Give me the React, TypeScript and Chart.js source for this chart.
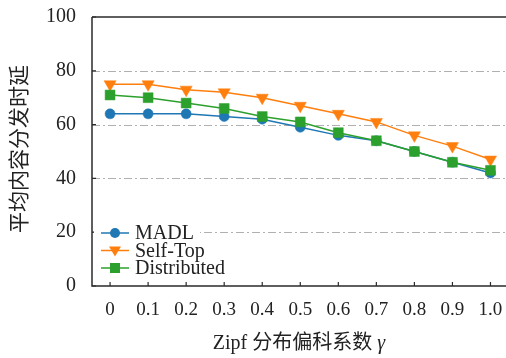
import React, { useEffect, useRef } from "react";
import { Chart, registerables } from "chart.js";

Chart.register(...registerables);

const xValues = [0, 0.1, 0.2, 0.3, 0.4, 0.5, 0.6, 0.7, 0.8, 0.9, 1.0];
const xTickLabels = ["0", "0.1", "0.2", "0.3", "0.4", "0.5", "0.6", "0.7", "0.8", "0.9", "1.0"];
const yTickValues = [0, 20, 40, 60, 80, 100];
const gridValues = [20, 40, 60, 80];

const madl = [64, 64, 64, 63, 62, 59, 56, 54, 50, 46, 42];
const selfTop = [75, 75, 73, 72, 70, 67, 64, 61, 56, 52, 47];
const distributed = [71, 70, 68, 66, 63, 61, 57, 54, 50, 46, 43];

const seriesNames = ["MADL", "Self-Top", "Distributed"];
const seriesColors = ["#1f77b4", "#ff7f0e", "#2ca02c"];

const yTitle = "平均内容分发时延";
const xTitleMain = "Zipf 分布偏科系数 ";
const xTitleSym = "γ";

const FONT = "'Liberation Serif', 'Times New Roman', 'Noto Sans CJK SC', serif";
const CJK_FONT = "'Liberation Serif', 'Noto Sans CJK SC', serif";

const toPoints = (arr: number[]) => arr.map((v, i) => ({ x: xValues[i], y: v }));

const decorPlugin = {
  id: "decor",
  beforeDatasetsDraw(chart: any) {
    const { ctx, chartArea } = chart;
    const y = chart.scales.y;
    const x = chart.scales.x;
    const right = 506;
    ctx.save();
    ctx.strokeStyle = "#b0b0b0";
    ctx.lineWidth = 1;
    ctx.setLineDash([8, 3, 2, 3]);
    gridValues.forEach((v) => {
      const py = Math.round(y.getPixelForValue(v)) + 0.5;
      ctx.beginPath();
      ctx.moveTo(chartArea.left, py);
      ctx.lineTo(right, py);
      ctx.stroke();
    });
    ctx.setLineDash([]);
    ctx.strokeStyle = "#2b2b2b";
    ctx.lineWidth = 1.5;
    const top = y.getPixelForValue(100);
    const bottom = y.getPixelForValue(0);
    ctx.beginPath();
    ctx.moveTo(chartArea.left, top);
    ctx.lineTo(right, top);
    ctx.moveTo(chartArea.left, top);
    ctx.lineTo(chartArea.left, bottom);
    ctx.lineTo(right, bottom);
    ctx.stroke();
    ctx.lineWidth = 1.2;
    ctx.beginPath();
    xValues.forEach((v) => {
      const px = x.getPixelForValue(v);
      ctx.moveTo(px, bottom);
      ctx.lineTo(px, bottom - 4);
    });
    yTickValues.forEach((v) => {
      const py = y.getPixelForValue(v);
      ctx.moveTo(chartArea.left, py);
      ctx.lineTo(chartArea.left + 4, py);
    });
    ctx.stroke();
    ctx.restore();
  },
  afterDraw(chart: any) {
    const { ctx } = chart;
    ctx.save();
    ctx.fillStyle = "#ffffff";
    ctx.fillRect(94, 222, 106, 56);
    const rows = [233, 250.5, 268];
    rows.forEach((ry, i) => {
      const c = seriesColors[i];
      ctx.strokeStyle = c;
      ctx.fillStyle = c;
      ctx.lineWidth = 1.5;
      ctx.beginPath();
      ctx.moveTo(101, ry);
      ctx.lineTo(129, ry);
      ctx.stroke();
      const mx = 115;
      ctx.beginPath();
      if (i === 0) {
        ctx.arc(mx, ry, 5, 0, Math.PI * 2);
      } else if (i === 1) {
        ctx.moveTo(mx - 6, ry - 4);
        ctx.lineTo(mx + 6, ry - 4);
        ctx.lineTo(mx, ry + 6);
        ctx.closePath();
      } else {
        ctx.rect(mx - 5, ry - 5, 10, 10);
      }
      ctx.fill();
      ctx.fillStyle = "#222";
      ctx.font = `20px ${FONT}`;
      ctx.textBaseline = "middle";
      ctx.textAlign = "left";
      ctx.fillText(seriesNames[i], 135, ry + 1);
    });
    ctx.fillStyle = "#222";
    ctx.font = `21px ${CJK_FONT}`;
    ctx.translate(20, 149);
    ctx.rotate(-Math.PI / 2);
    ctx.textAlign = "center";
    ctx.textBaseline = "middle";
    ctx.fillText(yTitle, 0, 0);
    ctx.setTransform(1, 0, 0, 1, 0, 0);
    ctx.font = `20px ${CJK_FONT}`;
    const w1 = ctx.measureText(xTitleMain).width;
    ctx.font = `italic 20px ${FONT}`;
    const w2 = ctx.measureText(xTitleSym).width;
    const start = 299 - (w1 + w2) / 2;
    ctx.textAlign = "left";
    ctx.textBaseline = "middle";
    ctx.font = `20px ${CJK_FONT}`;
    ctx.fillText(xTitleMain, start, 344);
    ctx.font = `italic 20px ${FONT}`;
    ctx.fillText(xTitleSym, start + w1, 344);
    ctx.restore();
  },
};

export default function App() {
  const ref = useRef<HTMLCanvasElement | null>(null);
  useEffect(() => {
    if (!ref.current) return;
    const styles = [
      { pointStyle: "circle", pointRadius: 5, rotation: 0, order: 3 },
      { pointStyle: "triangle", pointRadius: 7, rotation: 180, order: 2 },
      { pointStyle: "rect", pointRadius: 7, rotation: 0, order: 1 },
    ];
    const data = [madl, selfTop, distributed];
    const chart = new Chart(ref.current, {
      type: "line",
      data: {
        datasets: data.map((arr, i) => ({
          label: seriesNames[i],
          data: toPoints(arr),
          borderColor: seriesColors[i],
          backgroundColor: seriesColors[i],
          borderWidth: 1.5,
          pointStyle: styles[i].pointStyle as any,
          pointRadius: styles[i].pointRadius,
          pointRotation: styles[i].rotation,
          pointBorderWidth: 0.5,
          order: styles[i].order,
          tension: 0,
          clip: false as any,
        })),
      },
      plugins: [decorPlugin],
      options: {
        responsive: false,
        animation: false,
        events: [],
        layout: { padding: { top: 17, right: 0, left: 0, bottom: 0 } },
        plugins: { legend: { display: false }, tooltip: { enabled: false } },
        scales: {
          x: {
            type: "linear",
            min: -0.0475,
            max: 1.0211,
            afterBuildTicks: (s: any) => {
              s.ticks = xValues.map((v) => ({ value: v }));
            },
            afterFit: (s: any) => {
              s.height = 72;
              s.paddingLeft = 0;
              s.paddingRight = 0;
            },
            grid: { display: false, drawTicks: false },
            border: { display: false },
            ticks: {
              padding: 13,
              color: "#222",
              font: { family: FONT, size: 19 },
              maxRotation: 0,
              autoSkip: false,
              callback: (v: any) => {
                const idx = xValues.findIndex((t) => Math.abs(t - Number(v)) < 1e-6);
                return idx >= 0 ? xTickLabels[idx] : "";
              },
            },
          },
          y: {
            min: 0,
            max: 100,
            afterBuildTicks: (s: any) => {
              s.ticks = yTickValues.map((v) => ({ value: v }));
            },
            afterFit: (s: any) => {
              s.width = 92;
              s.paddingTop = 0;
              s.paddingBottom = 0;
            },
            grid: { display: false, drawTicks: false },
            border: { display: false },
            ticks: {
              padding: 16,
              color: "#222",
              font: { family: FONT, size: 20 },
              callback: (v: any) => String(v),
            },
          },
        },
      },
    });
    return () => chart.destroy();
  }, []);
  return (
    <div style={{ position: "fixed", left: 0, top: 0, width: 506, height: 358, background: "#fff" }}>
      <canvas ref={ref} width={506} height={358} style={{ width: 506, height: 358, display: "block" }} />
    </div>
  );
}
